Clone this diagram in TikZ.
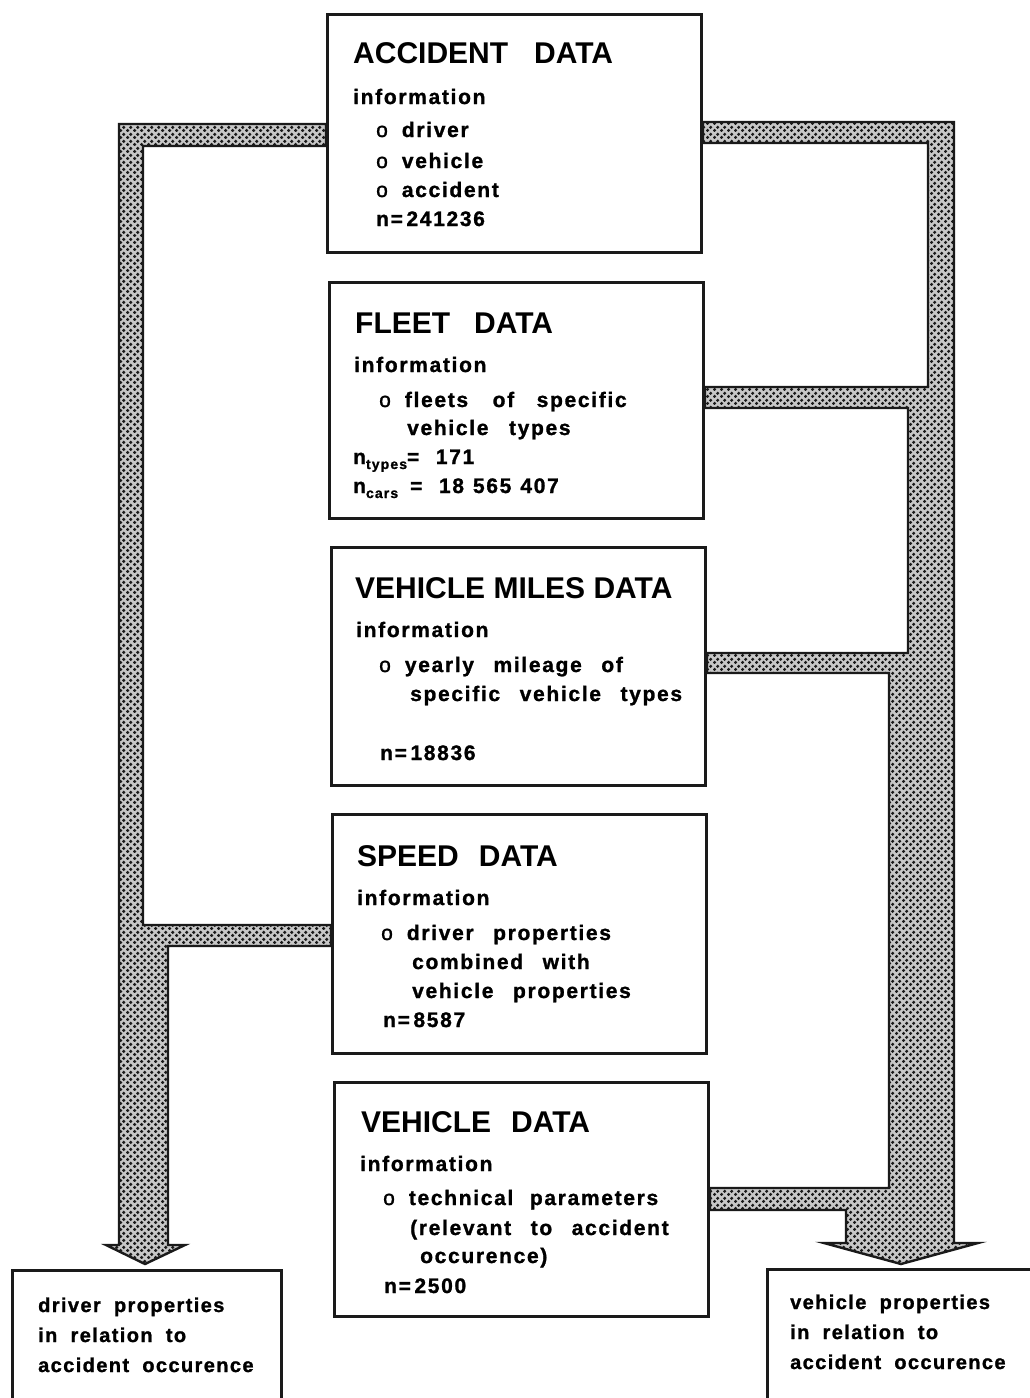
\documentclass[tikz,border=0pt]{standalone}
\usepackage{fontspec}
\usetikzlibrary{patterns.meta}
\newfontfamily\headfont{Liberation Sans}
\newfontfamily\bodyfont{Liberation Sans}[LetterSpace=8,WordSpace=2.2,FakeBold=1.2]
\newfontfamily\outfont{Liberation Sans}[LetterSpace=7,WordSpace=1.9,FakeBold=1.2]
\definecolor{ink}{HTML}{1A1A1A}

% staggered halftone dots for the flow bands
\tikzdeclarepattern{
  name=halftone,
  type=uncolored,
  bottom left={(0pt,0pt)},
  top right={(6.6pt,6.6pt)},
  tile size={(6.6pt,6.6pt)},
  code={
    \fill (1.65pt,1.65pt) circle (1.85pt);
    \fill (4.95pt,4.95pt) circle (1.85pt);
  }
}

\tikzset{
  databox/.style={draw=ink, line width=3pt, fill=white, rectangle, inner sep=0pt, anchor=north west},
  flow/.style={draw=ink, line width=2.4pt, line join=miter, preaction={fill=black!22}, pattern=halftone, pattern color=ink},
  headtxt/.style={anchor=base west, inner sep=0pt, text=black, font=\headfont\bfseries\fontsize{30}{30}\selectfont},
  bodytxt/.style={anchor=base west, inner sep=0pt, text=black, font=\bodyfont\bfseries\fontsize{21}{21}\selectfont},
  outtxt/.style={anchor=base west, inner sep=0pt, text=black, font=\outfont\bfseries\fontsize{20}{20}\selectfont},
}
\newcommand{\bul}{{\mdseries o}\hspace{14pt}}
\newcommand{\lowsub}[1]{\raisebox{-5pt}{\fontsize{14}{14}\selectfont #1}}

\begin{document}
\begin{tikzpicture}[x=1pt,y=-1pt]
\useasboundingbox (0,0) rectangle (1030,1398);
\clip (0,0) rectangle (1030,1398);
\fill[white] (0,0) rectangle (1030,1398);

% ---- data boxes (placed first so the bands can refer to them) ----
\path
  node[databox, minimum width=374pt, minimum height=238pt] (acc) at (326,13) {}
  node[databox, minimum width=374pt, minimum height=236pt] (flt) at (328,281) {}
  node[databox, minimum width=374pt, minimum height=238pt] (mil) at (330,546) {}
  node[databox, minimum width=374pt, minimum height=239pt] (spd) at (331,813) {}
  node[databox, minimum width=374pt, minimum height=234pt] (veh) at (333,1081) {}
  node[databox, minimum width=269pt, minimum height=200pt] (drvout) at (11,1269) {}
  node[databox, minimum width=300pt, minimum height=200pt] (vehout) at (766,1268) {};

% ---- left band: accident + speed data -> driver properties ----
\draw[flow] (acc.west |- 0,124) -- (119,124) -- (119,1245) -- (106,1245)
  -- (145,1264) -- (185,1245) -- (168,1245) -- (168,946)
  -- (spd.west |- 0,946) -- (spd.west |- 0,925) -- (143,925) -- (143,146)
  -- (acc.west |- 0,146) -- cycle;

% ---- right band: accident, fleet, mileage, vehicle data -> vehicle properties ----
\draw[flow] (acc.east |- 0,122) -- (954,122) -- (954,1243) -- (978,1243)
  -- (901,1264) -- (824,1243) -- (846,1243) -- (846,1210)
  -- (veh.east |- 0,1210) -- (veh.east |- 0,1188) -- (889,1188) -- (889,673)
  -- (mil.east |- 0,673) -- (mil.east |- 0,653) -- (908,653) -- (908,408)
  -- (flt.east |- 0,408) -- (flt.east |- 0,387) -- (928,387) -- (928,143)
  -- (acc.east |- 0,143) -- cycle;

% ---- boxes redrawn on top of the band ends ----
\path
  node[databox, minimum width=374pt, minimum height=238pt] (accb) at (326,13) {}
  node[databox, minimum width=374pt, minimum height=236pt] (fltb) at (328,281) {}
  node[databox, minimum width=374pt, minimum height=238pt] (milb) at (330,546) {}
  node[databox, minimum width=374pt, minimum height=239pt] (spdb) at (331,813) {}
  node[databox, minimum width=374pt, minimum height=234pt] (vehb) at (333,1081) {}
  node[databox, minimum width=269pt, minimum height=200pt] (drvb) at (11,1269) {}
  node[databox, minimum width=300pt, minimum height=200pt] (vehoutb) at (766,1268) {};

% ---- accident data ----
\node[headtxt] (acc1) at (353,63) {ACCIDENT\hspace{26pt}DATA};
\node[bodytxt] (acc2) at (353,104) {information};
\node[bodytxt] (acc3) at (376,137) {\bul driver};
\node[bodytxt] (acc4) at (376,168) {\bul vehicle};
\node[bodytxt] (acc5) at (376,197) {\bul accident};
\node[bodytxt] (acc6) at (376,226) {n=\,241236};

% ---- fleet data ----
\node[headtxt] (flt1) at (355,333) {FLEET\hspace{24pt}DATA};
\node[bodytxt] (flt2) at (354,372) {information};
\node[bodytxt] (flt3) at (379,407) {\bul fleets\hspace{8pt} of\hspace{6pt} specific};
\node[bodytxt] (flt4) at (407,435) {vehicle\hspace{4pt} types};
\node[bodytxt] (flt5) at (353,464) {n\lowsub{types}= 171};
\node[bodytxt] (flt6) at (353,493) {n\lowsub{cars}\hspace{12pt}= 18\hspace{9pt}565\hspace{9pt}407};

% ---- vehicle miles data ----
\node[headtxt] (mil1) at (355,598) {VEHICLE MILES DATA};
\node[bodytxt] (mil2) at (356,637) {information};
\node[bodytxt] (mil3) at (379,672) {\bul yearly\hspace{3pt} mileage\hspace{3pt} of};
\node[bodytxt] (mil4) at (410,701) {specific\hspace{3pt} vehicle\hspace{3pt} types};
\node[bodytxt] (mil5) at (380,760) {n=\,18836};

% ---- speed data ----
\node[headtxt] (spd1) at (357,866) {SPEED\hspace{20pt}DATA};
\node[bodytxt] (spd2) at (357,905) {information};
\node[bodytxt] (spd3) at (381,940) {\bul driver\hspace{3pt} properties};
\node[bodytxt] (spd4) at (412,969) {combined\hspace{3pt} with};
\node[bodytxt] (spd5) at (412,998) {vehicle\hspace{3pt} properties};
\node[bodytxt] (spd6) at (383,1027) {n=\,8587};

% ---- vehicle data ----
\node[headtxt] (veh1) at (361,1132) {VEHICLE\hspace{20pt}DATA};
\node[bodytxt] (veh2) at (360,1171) {information};
\node[bodytxt] (veh3) at (383,1205) {\bul technical parameters};
\node[bodytxt] (veh4) at (410,1235) {(relevant\hspace{3pt} to\hspace{3pt} accident};
\node[bodytxt] (veh5) at (420,1263) {occurence)};
\node[bodytxt] (veh6) at (384,1293) {n=\,2500};

% ---- results ----
\node[outtxt] (drv1) at (38,1312) {driver properties};
\node[outtxt] (drv2) at (38,1342) {in relation to};
\node[outtxt] (drv3) at (38,1372) {accident occurence};
\node[outtxt] (vo1) at (790,1309) {vehicle properties};
\node[outtxt] (vo2) at (790,1339) {in relation to};
\node[outtxt] (vo3) at (790,1369) {accident occurence};
\end{tikzpicture}
\end{document}
